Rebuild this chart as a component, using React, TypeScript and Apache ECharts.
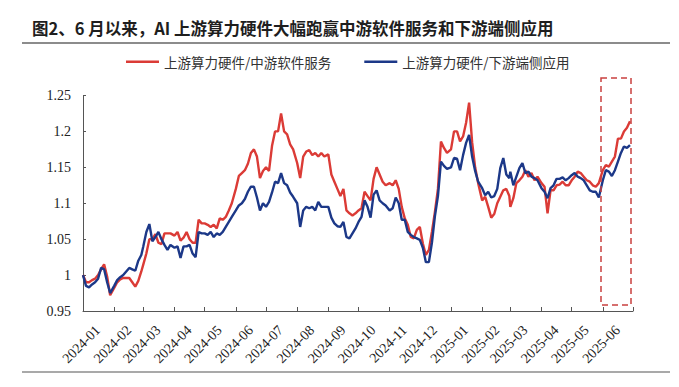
import React, { useEffect, useRef } from "react";
import * as echarts from "echarts";

const titleText = "图2、6 月以来，AI 上游算力硬件大幅跑赢中游软件服务和下游端侧应用";
const seriesNames = ["上游算力硬件/中游软件服务", "上游算力硬件/下游端侧应用"];
const monthKeys = [
  "2024-01", "2024-02", "2024-03", "2024-04", "2024-05", "2024-06",
  "2024-07", "2024-08", "2024-09", "2024-10", "2024-11", "2024-12",
  "2025-01", "2025-02", "2025-03", "2025-04", "2025-05", "2025-06",
];
const sampleDays = [1, 4, 7, 10, 13, 16, 19, 22, 25, 28];

// 上游算力硬件/中游软件服务 (10 samples per month)
const redValues = [
  1.0, 0.99, 0.99, 0.993, 0.995, 1.0, 1.008, 1.015, 0.998, 0.972,
  0.982, 0.99, 0.994, 0.996, 0.996, 0.996, 0.99, 0.984, 0.992, 1.005,
  1.015, 1.03, 1.05, 1.05, 1.057, 1.045, 1.043, 1.058, 1.058, 1.058,
  1.055, 1.06, 1.048, 1.052, 1.06, 1.05, 1.045, 1.045, 1.077, 1.072,
  1.072, 1.07, 1.067, 1.07, 1.065, 1.079, 1.077, 1.081, 1.09, 1.1,
  1.12, 1.138, 1.142, 1.146, 1.155, 1.17, 1.175, 1.165, 1.135, 1.145,
  1.15, 1.145, 1.18, 1.2, 1.2, 1.225, 1.2, 1.196, 1.182, 1.175,
  1.156, 1.135, 1.165, 1.172, 1.174, 1.167, 1.17, 1.165, 1.17, 1.165,
  1.168, 1.14, 1.13, 1.12, 1.11, 1.12, 1.09, 1.086, 1.083, 1.086,
  1.09, 1.093, 1.116, 1.11, 1.104, 1.134, 1.15, 1.14, 1.13, 1.125,
  1.128, 1.125, 1.132, 1.12, 1.095, 1.079, 1.07, 1.053, 1.051, 1.063,
  1.067, 1.044, 1.028, 1.035, 1.06, 1.088, 1.12, 1.186, 1.177, 1.17,
  1.175, 1.2, 1.2, 1.186, 1.193, 1.212, 1.24, 1.185, 1.15, 1.128,
  1.104, 1.109, 1.095, 1.08, 1.085, 1.1, 1.109, 1.118, 1.12, 1.11,
  1.095, 1.107, 1.128, 1.132, 1.137, 1.146, 1.137, 1.142, 1.132, 1.137,
  1.128, 1.123, 1.086, 1.118, 1.118, 1.125, 1.126, 1.13, 1.125, 1.125,
  1.132, 1.137, 1.144, 1.142, 1.137, 1.132, 1.13, 1.125, 1.123, 1.128,
  1.146, 1.153, 1.151, 1.158, 1.165, 1.19, 1.19, 1.2, 1.205, 1.214,
];

// 上游算力硬件/下游端侧应用 (10 samples per month)
const blueValues = [
  1.0, 0.985, 0.983, 0.987, 0.99, 0.995, 1.01, 1.008, 0.99, 0.975,
  0.985, 0.993, 0.997, 1.0, 1.005, 1.01, 1.008, 1.006, 1.02, 1.028,
  1.04, 1.06, 1.071, 1.047, 1.053, 1.06, 1.05, 1.042, 1.035, 1.042,
  1.038, 1.04, 1.024, 1.04, 1.04, 1.042, 1.03, 1.025, 1.06, 1.058,
  1.058, 1.056, 1.06, 1.053, 1.058, 1.056, 1.06, 1.067, 1.074, 1.081,
  1.09, 1.097, 1.1, 1.106, 1.116, 1.123, 1.123, 1.108, 1.09, 1.1,
  1.095, 1.102, 1.115, 1.13, 1.128, 1.142, 1.128, 1.125, 1.115, 1.109,
  1.1, 1.067, 1.09, 1.095, 1.093, 1.095, 1.09, 1.102, 1.095, 1.095,
  1.095, 1.08, 1.072, 1.068, 1.067, 1.074, 1.053, 1.051, 1.058, 1.065,
  1.074, 1.081, 1.104, 1.095, 1.08, 1.112, 1.118, 1.104, 1.1, 1.097,
  1.09, 1.093, 1.108, 1.1, 1.077, 1.077, 1.06, 1.056, 1.053, 1.051,
  1.049, 1.038, 1.018, 1.018, 1.045, 1.082, 1.11, 1.158, 1.152, 1.148,
  1.15, 1.163, 1.162, 1.146, 1.167, 1.184, 1.195, 1.165, 1.145, 1.13,
  1.121, 1.111, 1.116, 1.108, 1.11, 1.12, 1.149, 1.163, 1.14, 1.135,
  1.144, 1.125, 1.137, 1.149, 1.156, 1.142, 1.144, 1.137, 1.135, 1.132,
  1.121, 1.116, 1.107, 1.121, 1.125, 1.134, 1.134, 1.136, 1.132, 1.135,
  1.139, 1.142, 1.137, 1.135, 1.132, 1.125, 1.118, 1.116, 1.116, 1.108,
  1.132, 1.146, 1.144, 1.138, 1.146, 1.158, 1.17, 1.179, 1.177, 1.181,
];

const yMin = 0.95;
const yMax = 1.25;
const yStep = 0.05;
const xStart = "2024-01-01";
const xEnd = "2025-07-01";

const dates: string[] = [];
monthKeys.forEach((m) => {
  sampleDays.forEach((d) => dates.push(`${m}-${String(d).padStart(2, "0")}`));
});

const RED = "#db3b36";
const BLUE = "#1c3888";

export default function App() {
  const ref = useRef<HTMLDivElement>(null);
  useEffect(() => {
    document.body.style.margin = "0";
    document.body.style.background = "#fff";
    const chart = echarts.init(ref.current!, undefined, { renderer: "svg" });
    const serif = "'Liberation Serif', 'Times New Roman', serif";
    const cjk = "'Noto Sans CJK SC', sans-serif";
    const endTime = new Date(xEnd + "T00:00:00").getTime();
    chart.setOption({
      animation: false,
      backgroundColor: "#ffffff",
      grid: { left: 83, right: 46, top: 95.5, bottom: 76, containLabel: false },
      legend: {
        top: 50,
        left: 121,
        icon: "rect",
        itemWidth: 33,
        itemHeight: 2.5,
        itemGap: 33,
        textStyle: { fontFamily: cjk, fontSize: 13.5, color: "#333" },
        data: seriesNames,
      },
      xAxis: {
        type: "time",
        min: xStart,
        max: xEnd,
        splitNumber: 18,
        minInterval: 28 * 86400000,
        maxInterval: 31 * 86400000,
        axisLine: { show: true, lineStyle: { color: "#555", width: 1 } },
        axisTick: { show: true, inside: true, length: 4, lineStyle: { color: "#555" } },
        splitLine: { show: false },
        axisLabel: {
          rotate: 45,
          formatter: (v: number) => {
            if (v >= endTime - 86400000) return "";
            const d = new Date(v);
            return `${d.getFullYear()}-${String(d.getMonth() + 1).padStart(2, "0")}`;
          },
          fontFamily: serif,
          fontSize: 14,
          color: "#222",
          margin: 2,
          align: "right",
          verticalAlign: "top",
          padding: [14, 0, 0, 0],
          fontWeight: "normal",
        },
      },
      yAxis: {
        type: "value",
        min: yMin,
        max: yMax,
        interval: yStep,
        axisLine: { show: true, lineStyle: { color: "#555", width: 1 } },
        axisTick: { show: true, inside: true, length: 3, lineStyle: { color: "#555" } },
        splitLine: { show: false },
        axisLabel: {
          formatter: (v: number) => String(+v.toFixed(2)),
          fontFamily: serif,
          fontSize: 14,
          color: "#222",
          margin: 12,
        },
      },
      series: [
        {
          name: seriesNames[0],
          type: "line",
          symbol: "none",
          data: dates.map((d, i) => [d, redValues[i]]),
          lineStyle: { color: RED, width: 2.4 },
          itemStyle: { color: RED },
          z: 2,
        },
        {
          name: seriesNames[1],
          type: "line",
          symbol: "none",
          data: dates.map((d, i) => [d, blueValues[i]]),
          lineStyle: { color: BLUE, width: 2.4 },
          itemStyle: { color: BLUE },
          z: 3,
        },
      ],
      graphic: [
        {
          type: "text",
          left: 32,
          top: 20,
          style: {
            text: titleText,
            fontFamily: cjk,
            fontSize: 16.5,
            fontWeight: "bold",
            fill: "#1e1e1e",
          },
        },
        {
          type: "line",
          shape: { x1: 22, y1: 43, x2: 670, y2: 43 },
          style: { stroke: "#8c8c8c", lineWidth: 2 },
        },
        {
          type: "line",
          shape: { x1: 22, y1: 372, x2: 670, y2: 372 },
          style: { stroke: "#555", lineWidth: 1.2 },
        },
        {
          type: "rect",
          shape: { x: 601, y: 78, width: 30, height: 227 },
          style: { fill: "none", stroke: "#c9403f", lineWidth: 1.5, lineDash: [6, 4] },
          z: 10,
        },
      ],
    });
    return () => chart.dispose();
  }, []);
  return <div ref={ref} style={{ width: 679, height: 387 }} />;
}
